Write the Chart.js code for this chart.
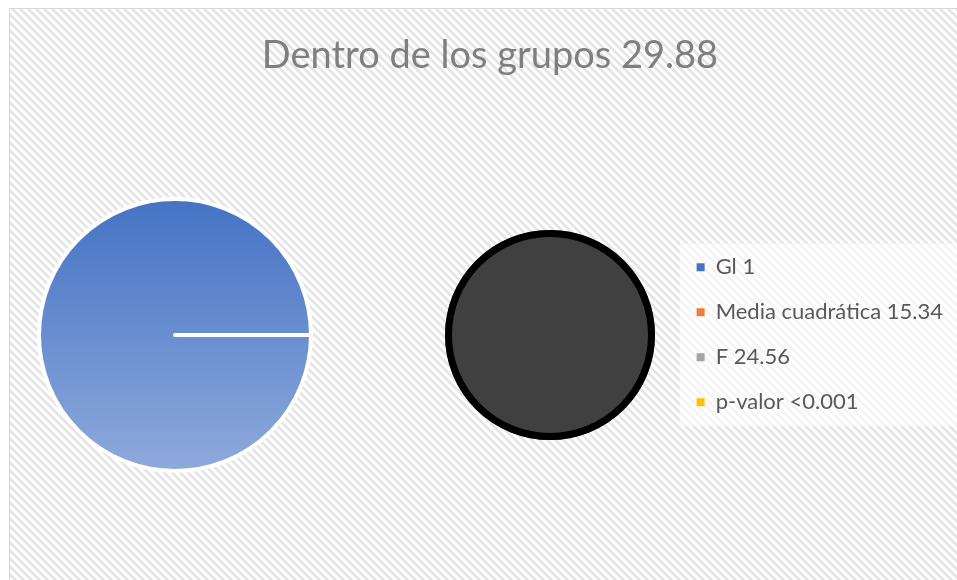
<!DOCTYPE html>
<html lang="es">
<head>
<meta charset="UTF-8">
<title>Dentro de los grupos</title>
<script src="https://cdn.jsdelivr.net/npm/chart.js"></script>
<style>
  body { margin: 0; background: #fff; width: 957px; height: 580px; overflow: hidden; position: relative; }
  .frame {
    position: absolute; left: 9px; top: 8px; width: 948px; height: 572px;
    border-left: 1px solid #d9d9d9; border-top: 1px solid #d9d9d9;
    background: repeating-linear-gradient(45deg, #ffffff 0px, #ffffff 2.9px, #e6e6e6 2.9px, #e6e6e6 5.66px);
  }
  canvas { position: absolute; }
</style>
</head>
<body>
<div class="frame"></div>
<canvas id="mainChart" width="948" height="572" style="left:9px;top:8px"></canvas>
<canvas id="pieLeft" width="300" height="300" style="left:25px;top:185px"></canvas>
<canvas id="pieRight" width="240" height="240" style="left:430px;top:215px"></canvas>
<script>
const seriesName = 'Dentro de los grupos 29.88';
const categories = ['Gl 1', 'Media cuadrática 15.34', 'F 24.56', 'p-valor <0.001'];
const pieValues = [1, 0, 0, 0];
const subPieLabels = ['Otros'];
const subPieValues = [1];
const sliceColors = ['#4472C4', '#ED7D31', '#A5A5A5', '#FFC000'];

const FONT = 'Lato, "Open Sans", sans-serif';

// lighter panel behind the legend, like the Excel legend box
const legendPanel = {
  id: 'legendPanel',
  beforeDraw(chart, args, opts) {
    const lg = chart.legend;
    const boxes = lg && lg.legendHitBoxes;
    if (!boxes || !boxes.length) return;
    const first = boxes[0], last = boxes[boxes.length - 1];
    const ctx = chart.ctx;
    const x = first.left - opts.inset;
    ctx.save();
    ctx.fillStyle = opts.color;
    ctx.fillRect(x, first.top - opts.pad, chart.width - x,
      last.top + last.height - first.top + 2 * opts.pad);
    ctx.restore();
  }
};

// thick outline around the second pie (no radial seam)
const ringBorder = {
  id: 'ringBorder',
  afterDatasetsDraw(chart, args, opts) {
    const ctx = chart.ctx;
    chart.getDatasetMeta(0).data.forEach(arc => {
      ctx.save();
      ctx.beginPath();
      ctx.arc(arc.x, arc.y, arc.outerRadius - opts.width / 2, 0, Math.PI * 2);
      ctx.lineWidth = opts.width;
      ctx.strokeStyle = opts.color;
      ctx.stroke();
      ctx.restore();
    });
  }
};

// title + legend
new Chart(document.getElementById('mainChart'), {
  type: 'pie',
  data: {
    labels: categories,
    datasets: [{ data: pieValues, hidden: true, backgroundColor: sliceColors, borderWidth: 0 }]
  },
  plugins: [legendPanel],
  options: {
    responsive: false,
    animation: false,
    events: [],
    layout: { padding: { left: 18, right: 4 } },
    plugins: {
      title: {
        display: true,
        text: seriesName,
        color: '#7f7f7f',
        font: { family: FONT, size: 38, weight: 'normal' },
        padding: { top: 25, bottom: 11 }
      },
      legend: {
        position: 'right',
        fullSize: false,
        align: 'center',
        labels: {
          boxWidth: 8,
          boxHeight: 8,
          padding: 23,
          color: '#595959',
          font: { family: FONT, size: 22 }
        }
      },
      tooltip: { enabled: false },
      legendPanel: { color: 'rgba(255,255,255,0.6)', inset: 17, pad: 13 }
    }
  }
});

// first pie
new Chart(document.getElementById('pieLeft'), {
  type: 'pie',
  data: {
    labels: categories,
    datasets: [{
      data: pieValues,
      backgroundColor: (c) => {
        const area = c.chart.chartArea;
        if (c.dataIndex !== 0 || !area) return sliceColors[c.dataIndex];
        const g = c.chart.ctx.createLinearGradient(0, area.top, 0, area.bottom);
        g.addColorStop(0, '#4472C4');
        g.addColorStop(1, '#8FAADC');
        return g;
      },
      borderColor: '#ffffff',
      borderWidth: 4,
      borderJoinStyle: 'round'
    }]
  },
  options: {
    responsive: false,
    animation: false,
    events: [],
    rotation: 90,
    layout: { padding: 12 },
    plugins: { legend: { display: false }, title: { display: false }, tooltip: { enabled: false } }
  }
});

// second pie
new Chart(document.getElementById('pieRight'), {
  type: 'pie',
  data: {
    labels: subPieLabels,
    datasets: [{ data: subPieValues, backgroundColor: '#404040', borderWidth: 0 }]
  },
  plugins: [ringBorder],
  options: {
    responsive: false,
    animation: false,
    events: [],
    layout: { padding: 15 },
    plugins: {
      legend: { display: false }, title: { display: false }, tooltip: { enabled: false },
      ringBorder: { width: 7, color: '#000000' }
    }
  }
});
</script>
</body>
</html>
